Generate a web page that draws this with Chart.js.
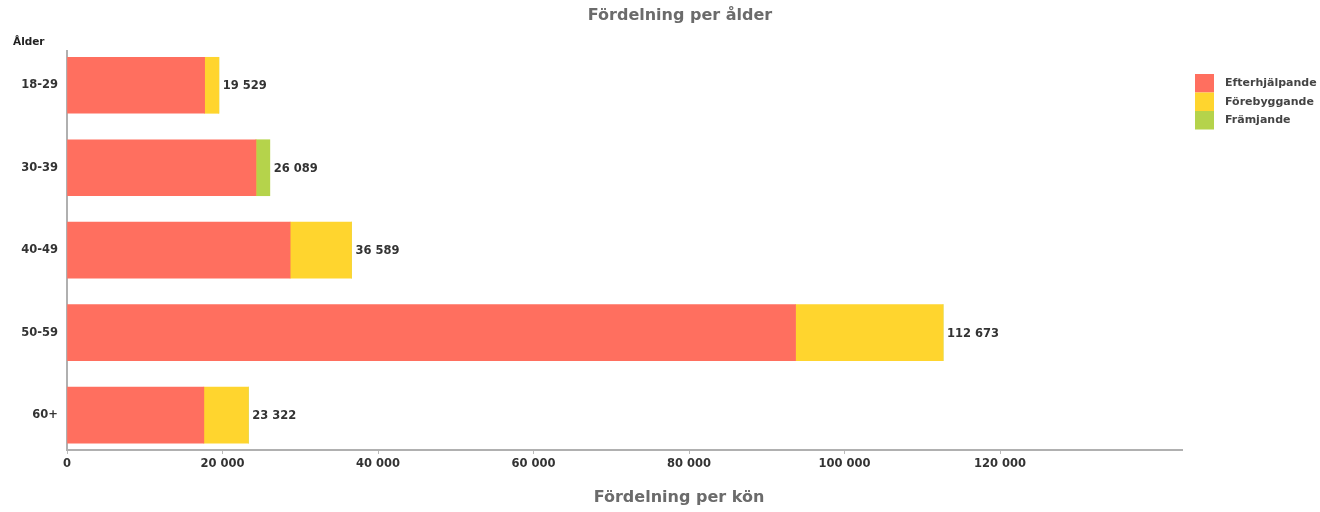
<!DOCTYPE html>
<html lang="sv">
<head>
    <meta charset="UTF-8">
    <title>Fördelning per ålder</title>
    <script src="https://cdn.jsdelivr.net/npm/chart.js"></script>
    <style>
        body {
            margin: 0;
            background: #fff;
        }
        .chart-box {
            width: 1320px;
            height: 512px;
        }
    </style>
</head>
<body>
    <div class="chart-box">
        <canvas id="ageChart"></canvas>
    </div>

    <script>
        const ageGroups = ['18-29', '30-39', '40-49', '50-59', '60+'];
        const efterhjalpande = [17700, 24300, 28700, 93700, 17600];
        const forebyggande = [1829, 0, 7889, 18973, 5722];
        const framjande = [0, 1789, 0, 0, 0];
        const xTicks = [0, 20000, 40000, 60000, 80000, 100000, 120000];

        const FONT = 'DejaVu Sans';
        const colors = ['#ff6f5f', '#ffd52e', '#b5d34b'];

        function fmt(v) {
            return String(v).replace(/\B(?=(\d{3})+(?!\d))/g, ' ');
        }

        function points(values) {
            return values.map((v, i) => ({ x: v, y: i }));
        }

        // titles, legend and totals drawn on top of the chart
        const extras = {
            id: 'extras',
            afterDraw(chart) {
                const ctx = chart.ctx;
                const xs = chart.scales.x;
                const ys = chart.scales.y;
                ctx.save();

                ctx.fillStyle = '#6b6b6b';
                ctx.font = 'bold 16px ' + FONT;
                ctx.textAlign = 'center';
                ctx.textBaseline = 'middle';
                ctx.fillText('Fördelning per ålder', 680, 16);
                ctx.fillText('Fördelning per kön', 679, 498);

                ctx.fillStyle = '#222';
                ctx.font = 'bold 10.5px ' + FONT;
                ctx.textAlign = 'left';
                ctx.fillText('Ålder', 13, 42);

                // totals at the end of each bar
                ctx.fillStyle = '#333';
                ctx.font = 'bold 11.5px ' + FONT;
                ageGroups.forEach((g, i) => {
                    const total = chart.data.datasets.reduce((s, d) => s + d.data[i].x, 0);
                    ctx.fillText(fmt(total), xs.getPixelForValue(total) + 4, ys.getPixelForValue(i) + 1);
                });

                // legend
                ctx.font = 'bold 11px ' + FONT;
                chart.data.datasets.forEach((d, i) => {
                    const top = 74 + i * 18.5;
                    ctx.fillStyle = d.backgroundColor;
                    ctx.fillRect(1195, top, 19, 18.5);
                    ctx.fillStyle = '#444';
                    ctx.fillText(d.label, 1225, top + 9.5);
                });

                ctx.restore();
            }
        };

        new Chart(document.getElementById('ageChart'), {
            type: 'bar',
            data: {
                datasets: [
                    { label: 'Efterhjälpande', data: points(efterhjalpande), backgroundColor: colors[0] },
                    { label: 'Förebyggande', data: points(forebyggande), backgroundColor: colors[1] },
                    { label: 'Främjande', data: points(framjande), backgroundColor: colors[2] }
                ]
            },
            options: {
                indexAxis: 'y',
                responsive: true,
                maintainAspectRatio: false,
                animation: false,
                barThickness: 56,
                layout: {
                    padding: { top: 51, right: 138, left: 0, bottom: 0 }
                },
                plugins: {
                    legend: { display: false },
                    tooltip: { enabled: false }
                },
                scales: {
                    x: {
                        type: 'linear',
                        stacked: true,
                        min: 0,
                        max: 143400,
                        afterBuildTicks: s => { s.ticks = xTicks.map(v => ({ value: v })); },
                        afterFit: s => { s.height = 62; },
                        ticks: {
                            callback: v => fmt(v),
                            color: '#333',
                            font: { family: FONT, size: 11.5, weight: 'bold' },
                            padding: 3,
                            maxRotation: 0
                        },
                        grid: {
                            drawOnChartArea: false,
                            tickLength: 4,
                            color: '#bbb'
                        },
                        border: { color: '#b0b0b0', width: 2 }
                    },
                    y: {
                        type: 'linear',
                        stacked: true,
                        reverse: true,
                        offset: false,
                        min: -0.416,
                        max: 4.424,
                        afterFit: s => { s.width = 67; },
                        ticks: {
                            stepSize: 1,
                            autoSkip: false,
                            callback: v => Number.isInteger(v) ? ageGroups[v] : '',
                            color: '#333',
                            font: { family: FONT, size: 11.5, weight: 'bold' },
                            padding: 9
                        },
                        grid: {
                            offset: false,
                            drawOnChartArea: false,
                            drawTicks: false
                        },
                        border: { color: '#b0b0b0', width: 2 }
                    }
                }
            },
            plugins: [extras]
        });
    </script>
</body>
</html>
